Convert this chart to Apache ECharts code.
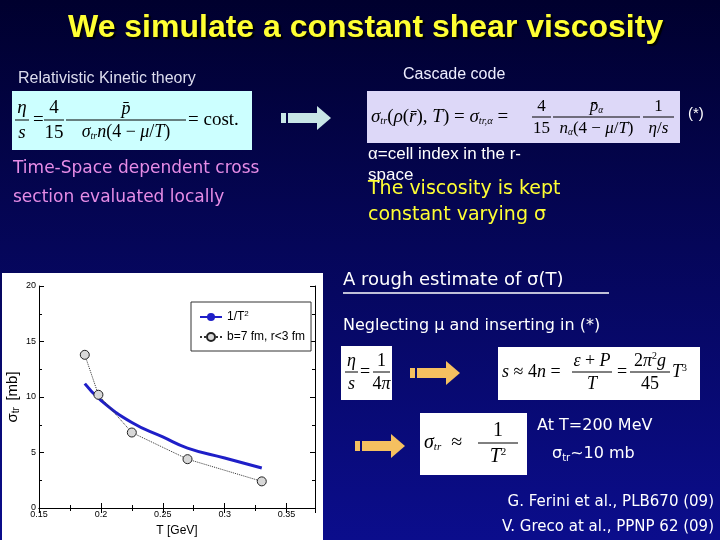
<!DOCTYPE html>
<html>
<head>
<meta charset="utf-8">
<script src="https://cdn.jsdelivr.net/npm/echarts@6/dist/echarts.min.js"></script>
<style>
html, body { margin: 0; padding: 0; }
#main { width: 720px; height: 540px; }
</style>
</head>
<body>
<div id="main"></div>
<script>
// T [GeV] and sigma_tr [mb]
var cascadeT = [0.187, 0.198, 0.225, 0.27, 0.33];
var cascadeSigma = [13.8, 10.2, 6.8, 4.4, 2.4];
var curveT = [0.187, 0.2, 0.225, 0.25, 0.27, 0.3, 0.33];
var curveSigma = [11.2, 9.7, 7.7, 6.4, 5.4, 4.5, 3.6];
var xTicks = [0.15, 0.2, 0.25, 0.3, 0.35];
var yTicks = [0, 5, 10, 15, 20];

var serif = '"Liberation Serif", "DejaVu Serif", serif';
var sans = '"Liberation Sans", Arial, sans-serif';
var slideFont = '"DejaVu Sans", "Noto Sans", sans-serif';

var pairs = function (xs, ys) {
    return xs.map(function (x, i) { return [x, ys[i]]; });
};

function eqStyle(size) {
    return {
        fontFamily: serif, fontSize: size, fill: '#000',
        rich: {
            i: { fontFamily: serif, fontStyle: 'italic', fontSize: size },
            sub: { fontFamily: serif, fontStyle: 'italic', fontSize: size * 0.55, verticalAlign: 'bottom', padding: [size * 0.4, 0, 0, 0] },
            sup: { fontFamily: serif, fontSize: size * 0.55, verticalAlign: 'top', padding: [0, 0, size * 0.4, 0] }
        }
    };
}

// math piece at (x, y) with vertical centre y
function m(x, y, text, size, align) {
    return {
        type: 'text', x: x, y: y,
        style: Object.assign({ text: text, align: align || 'left', verticalAlign: 'middle' }, eqStyle(size))
    };
}

// fraction: bar from x1 to x2 at y, num above, den below
function frac(x1, x2, y, num, den, size) {
    var cx = (x1 + x2) / 2;
    return [
        m(cx, y - size * 0.62, num, size, 'center'),
        { type: 'line', shape: { x1: x1, y1: y, x2: x2, y2: y }, style: { stroke: '#000', lineWidth: 1 } },
        m(cx, y + size * 0.68, den, size, 'center')
    ];
}

function txt(x, y, text, style) {
    return { type: 'text', left: x, top: y, style: Object.assign({ text: text }, style) };
}

function arrow(x, y, color) {
    return {
        type: 'group', left: x, top: y,
        children: [
            { type: 'rect', shape: { x: 0, y: 3, width: 5, height: 10 }, style: { fill: color } },
            { type: 'rect', shape: { x: 7, y: 3, width: 30, height: 10 }, style: { fill: color } },
            { type: 'polygon', shape: { points: [[36, -4], [50, 8], [36, 20]] }, style: { fill: color } }
        ]
    };
}

var white = { fill: '#fff', fontFamily: slideFont, fontSize: 16 };

var graphics = [
    { type: 'rect', z: -1, shape: { x: 2, y: 273, width: 321, height: 267 }, style: { fill: '#fff' } },
    txt(68, 12, 'We simulate a constant shear viscosity', {
        fill: '#ffff33', fontFamily: sans, fontWeight: 'bold', fontSize: 32,
        textShadowColor: '#000', textShadowOffsetX: 2, textShadowOffsetY: 2, textShadowBlur: 1
    }),
    txt(18, 71, 'Relativistic Kinetic theory', { fill: '#dde', fontFamily: sans, fontSize: 16 }),
    { type: 'rect', shape: { x: 12, y: 91, width: 240, height: 59 }, style: { fill: '#ccffff' } },
    m(33, 120, '=', 19),
    m(188, 120, '= cost.', 19),
    txt(368, 146, 'α=cell index in the r-', { fill: '#fff', fontFamily: sans, fontSize: 17 }),
    txt(368, 167, 'space', { fill: '#fff', fontFamily: sans, fontSize: 17 }),
    txt(368, 180, 'The viscosity is kept', { fill: '#ffff33', fontFamily: slideFont, fontSize: 19 }),
    txt(368, 206, 'constant varying σ', { fill: '#ffff33', fontFamily: slideFont, fontSize: 19 }),
    txt(13, 160, 'Time-Space dependent cross', { fill: '#e68ce6', fontFamily: slideFont, fontSize: 17 }),
    txt(13, 189, 'section evaluated locally', { fill: '#e68ce6', fontFamily: slideFont, fontSize: 17 }),
    arrow(281, 106, '#c8e6e6'),
    txt(403, 67, 'Cascade code', { fill: '#eef', fontFamily: sans, fontSize: 16 }),
    { type: 'rect', shape: { x: 367, y: 91, width: 313, height: 52 }, style: { fill: '#ddd8f8' } },
    m(371, 117, '{i|σ}{sub|tr}({i|ρ}({i|r̄}), {i|T}) = {i|σ}{sub|tr,α} =', 19),
    txt(688, 106, '(*)', { fill: '#fff', fontFamily: sans, fontSize: 15 }),
    txt(343, 271, 'A rough estimate of σ(T)', Object.assign({}, white, { fontSize: 18 })),
    { type: 'line', shape: { x1: 343, y1: 293, x2: 609, y2: 293 }, style: { stroke: '#fff', lineWidth: 1.5 } },
    txt(343, 318, 'Neglecting μ and inserting in (*)', white),
    { type: 'rect', shape: { x: 341, y: 346, width: 51, height: 54 }, style: { fill: '#fff' } },
    m(360, 372, '=', 18),
    arrow(410, 361, '#f5c060'),
    { type: 'rect', shape: { x: 498, y: 347, width: 202, height: 53 }, style: { fill: '#fff' } },
    m(502, 372, '{i|s} ≈ 4{i|n} =', 18),
    m(617, 372, '=', 18),
    m(672, 372, '{i|T}{sup|3}', 18),
    arrow(355, 434, '#f5c060'),
    { type: 'rect', shape: { x: 420, y: 413, width: 107, height: 62 }, style: { fill: '#fff' } },
    m(424, 443, '{i|σ}{sub|tr}  ≈', 20),
    txt(537, 418, 'At T=200 MeV', white),
    txt(552, 446, 'σ{s|tr}~10 mb', Object.assign({}, white, {
        rich: { s: { fill: '#fff', fontFamily: slideFont, fontSize: 10, verticalAlign: 'bottom', padding: [8, 0, 0, 0] } }
    })),
    { type: 'text', right: 6, top: 495, style: Object.assign({ text: 'G. Ferini et al., PLB670 (09)' }, white, { fontSize: 15 }) },
    { type: 'text', right: 6, top: 520, style: Object.assign({ text: 'V. Greco at al., PPNP 62 (09)' }, white, { fontSize: 15 }) }
].concat(
    frac(15, 29, 120, '{i|η}', '{i|s}', 19),
    frac(44, 64, 120, '4', '15', 19),
    frac(66, 186, 120, '{i|p̄}', '{i|σ}{sub|tr}{i|n}(4 − {i|μ}/{i|T})', 18),
    frac(532, 551, 117, '4', '15', 17),
    frac(553, 640, 117, '{i|p̄}{sub|α}', '{i|n}{sub|α}(4 − {i|μ}/{i|T})', 17),
    frac(643, 674, 117, '1', '{i|η}/{i|s}', 17),
    frac(345, 358, 372, '{i|η}', '{i|s}', 18),
    frac(373, 390, 372, '1', '4{i|π}', 18),
    frac(572, 612, 372, '{i|ε} + {i|P}', '{i|T}', 18),
    frac(630, 670, 372, '2{i|π}{sup|2}{i|g}', '45', 18),
    frac(478, 518, 443, '1', '{i|T}{sup|2}', 20)
);

var option = {
    backgroundColor: {
        type: 'linear', x: 0, y: 0, x2: 0, y2: 1,
        colorStops: [{ offset: 0, color: '#00002e' }, { offset: 1, color: '#0b0d8c' }]
    },
    animation: false,
    graphic: graphics,
    legend: {
        orient: 'vertical', left: 191, top: 302, width: 114,
        padding: [8, 6, 8, 8], itemGap: 8,
        backgroundColor: '#fff', borderColor: '#333', borderWidth: 1,
        itemWidth: 22, itemHeight: 10,
        textStyle: {
            fontFamily: sans, fontSize: 12, color: '#000',
            rich: {
                t: { fontFamily: sans, fontSize: 12 },
                s: { fontFamily: sans, fontSize: 8, verticalAlign: 'top', padding: [0, 0, 6, 0] }
            }
        },
        formatter: function (name) {
            return name === '1/T2' ? '{t|1/T}{s|2}' : name;
        },
        data: ['1/T2', 'b=7 fm, r<3 fm']
    },
    grid: { left: 39, top: 286, width: 276, height: 222 },
    xAxis: [{
        type: 'value', min: 0.15, max: 0.373, interval: 0.05,
        name: 'T [GeV]', nameLocation: 'middle', nameGap: 17,
        nameTextStyle: { fontFamily: sans, fontSize: 12, color: '#000' },
        axisLine: { lineStyle: { color: '#000' } },
        axisTick: { inside: true, length: 5, lineStyle: { color: '#000' } },
        minorTick: { show: true, splitNumber: 2, length: 3, lineStyle: { color: '#000' } },
        axisLabel: {
            fontFamily: sans, fontSize: 9, color: '#000', margin: 2,
            customValues: xTicks,
            formatter: function (v) { return String(v); }
        },
        splitLine: { show: false }
    }, {
        type: 'value', position: 'top', min: 0.15, max: 0.373, interval: 0.05,
        axisLine: { lineStyle: { color: '#000' } },
        axisTick: { inside: true, length: 5, lineStyle: { color: '#000' } },
        minorTick: { show: true, splitNumber: 2, length: 3, lineStyle: { color: '#000' } },
        axisLabel: { show: false }, splitLine: { show: false }
    }],
    yAxis: [{
        type: 'value', min: 0, max: 20, interval: 5,
        name: '{g|σ}{s|tr}  {g|[mb]}', nameLocation: 'middle', nameGap: 18, nameRotate: 90,
        nameTextStyle: {
            color: '#000',
            rich: {
                g: { fontFamily: sans, fontSize: 15, color: '#000' },
                s: { fontFamily: sans, fontSize: 10, color: '#000', verticalAlign: 'bottom', padding: [6, 0, 0, 0] }
            }
        },
        axisLine: { lineStyle: { color: '#000' } },
        axisTick: { inside: true, length: 5, lineStyle: { color: '#000' } },
        minorTick: { show: true, splitNumber: 2, length: 3, lineStyle: { color: '#000' } },
        axisLabel: { fontFamily: sans, fontSize: 9, color: '#000', margin: 3, customValues: yTicks },
        splitLine: { show: false }
    }, {
        type: 'value', position: 'right', min: 0, max: 20, interval: 5,
        axisLine: { show: true, lineStyle: { color: '#000' } },
        axisTick: { inside: true, length: 5, lineStyle: { color: '#000' } },
        minorTick: { show: true, splitNumber: 2, length: 3, lineStyle: { color: '#000' } },
        axisLabel: { show: false }, splitLine: { show: false }
    }],
    series: [{
        name: '1/T2', type: 'line', smooth: true, symbol: 'none',
        lineStyle: { color: '#1f1fc8', width: 3 },
        itemStyle: { color: '#1f1fc8' },
        data: pairs(curveT, curveSigma)
    }, {
        name: 'b=7 fm, r<3 fm', type: 'line', symbol: 'circle', symbolSize: 9,
        lineStyle: { color: '#333', width: 1, type: 'dotted' },
        itemStyle: { color: '#d8d8d8', borderColor: '#222', borderWidth: 1 },
        data: pairs(cascadeT, cascadeSigma)
    }]
};

var myChart = echarts.init(document.getElementById('main'));
myChart.setOption(option);
</script>
</body>
</html>
